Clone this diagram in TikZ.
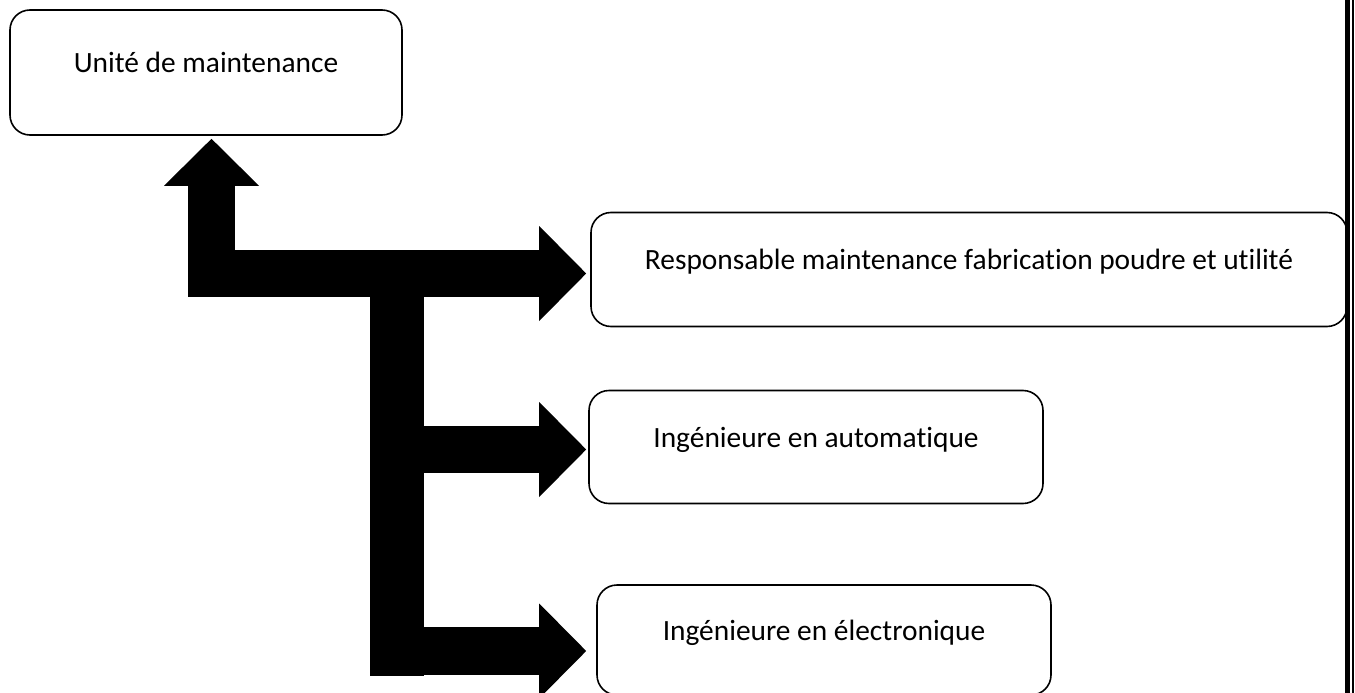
\documentclass[tikz,border=0pt]{standalone}
\usepackage{fontspec}
\setmainfont[Ligatures=NoCommon]{Carlito}
\usetikzlibrary{arrows.meta}

\begin{document}
\begin{tikzpicture}[x=1pt,y=-1pt,
  box/.style={draw,line width=1.6pt,rounded corners=20pt,font=\fontsize{29.4}{34}\selectfont,text height=12pt,text depth=12pt},
  bar/.style={line width=47pt,-{Triangle[length=47pt,width=95pt,line width=0pt]}}]
  \useasboundingbox (0,0) rectangle (1355,693);
  \node[box,minimum width=392pt,minimum height=125pt] (unite) at (206,72.5) {Unité de maintenance};
  \node[box,minimum width=756pt,minimum height=114pt] (resp) at (969,269.5) {Responsable maintenance fabrication poudre et utilité};
  \node[box,minimum width=454pt,minimum height=113pt] (auto) at (816,447) {Ingénieure en automatique};
  \node[box,minimum width=454pt,minimum height=110pt] (elec) at (824,640) {Ingénieure en électronique};
  \coordinate (j) at (397,273.5);
  \coordinate (foot) at (397,676);
  \coordinate (m) at (397,449.5);
  \coordinate (b) at (397,651);
  \draw[line width=54pt] (j) -- (foot);
  \draw[bar,shorten >=3pt] (j) -| ([xshift=5.5pt]unite.south);
  \draw[bar,shorten >=4pt] (j) -- (j -| resp.west);
  \draw[bar,shorten >=2pt] (m) -- (m -| auto.west);
  \draw[bar,line width=48pt,shorten >=10pt] (b) -- (b -| elec.west);
  % double rule on the right
  \draw[line width=4.7pt] (1347.6,0) -- (1347.6,693);
  \draw[line width=2.3pt] (1352.9,0) -- (1352.9,693);
\end{tikzpicture}
\end{document}
